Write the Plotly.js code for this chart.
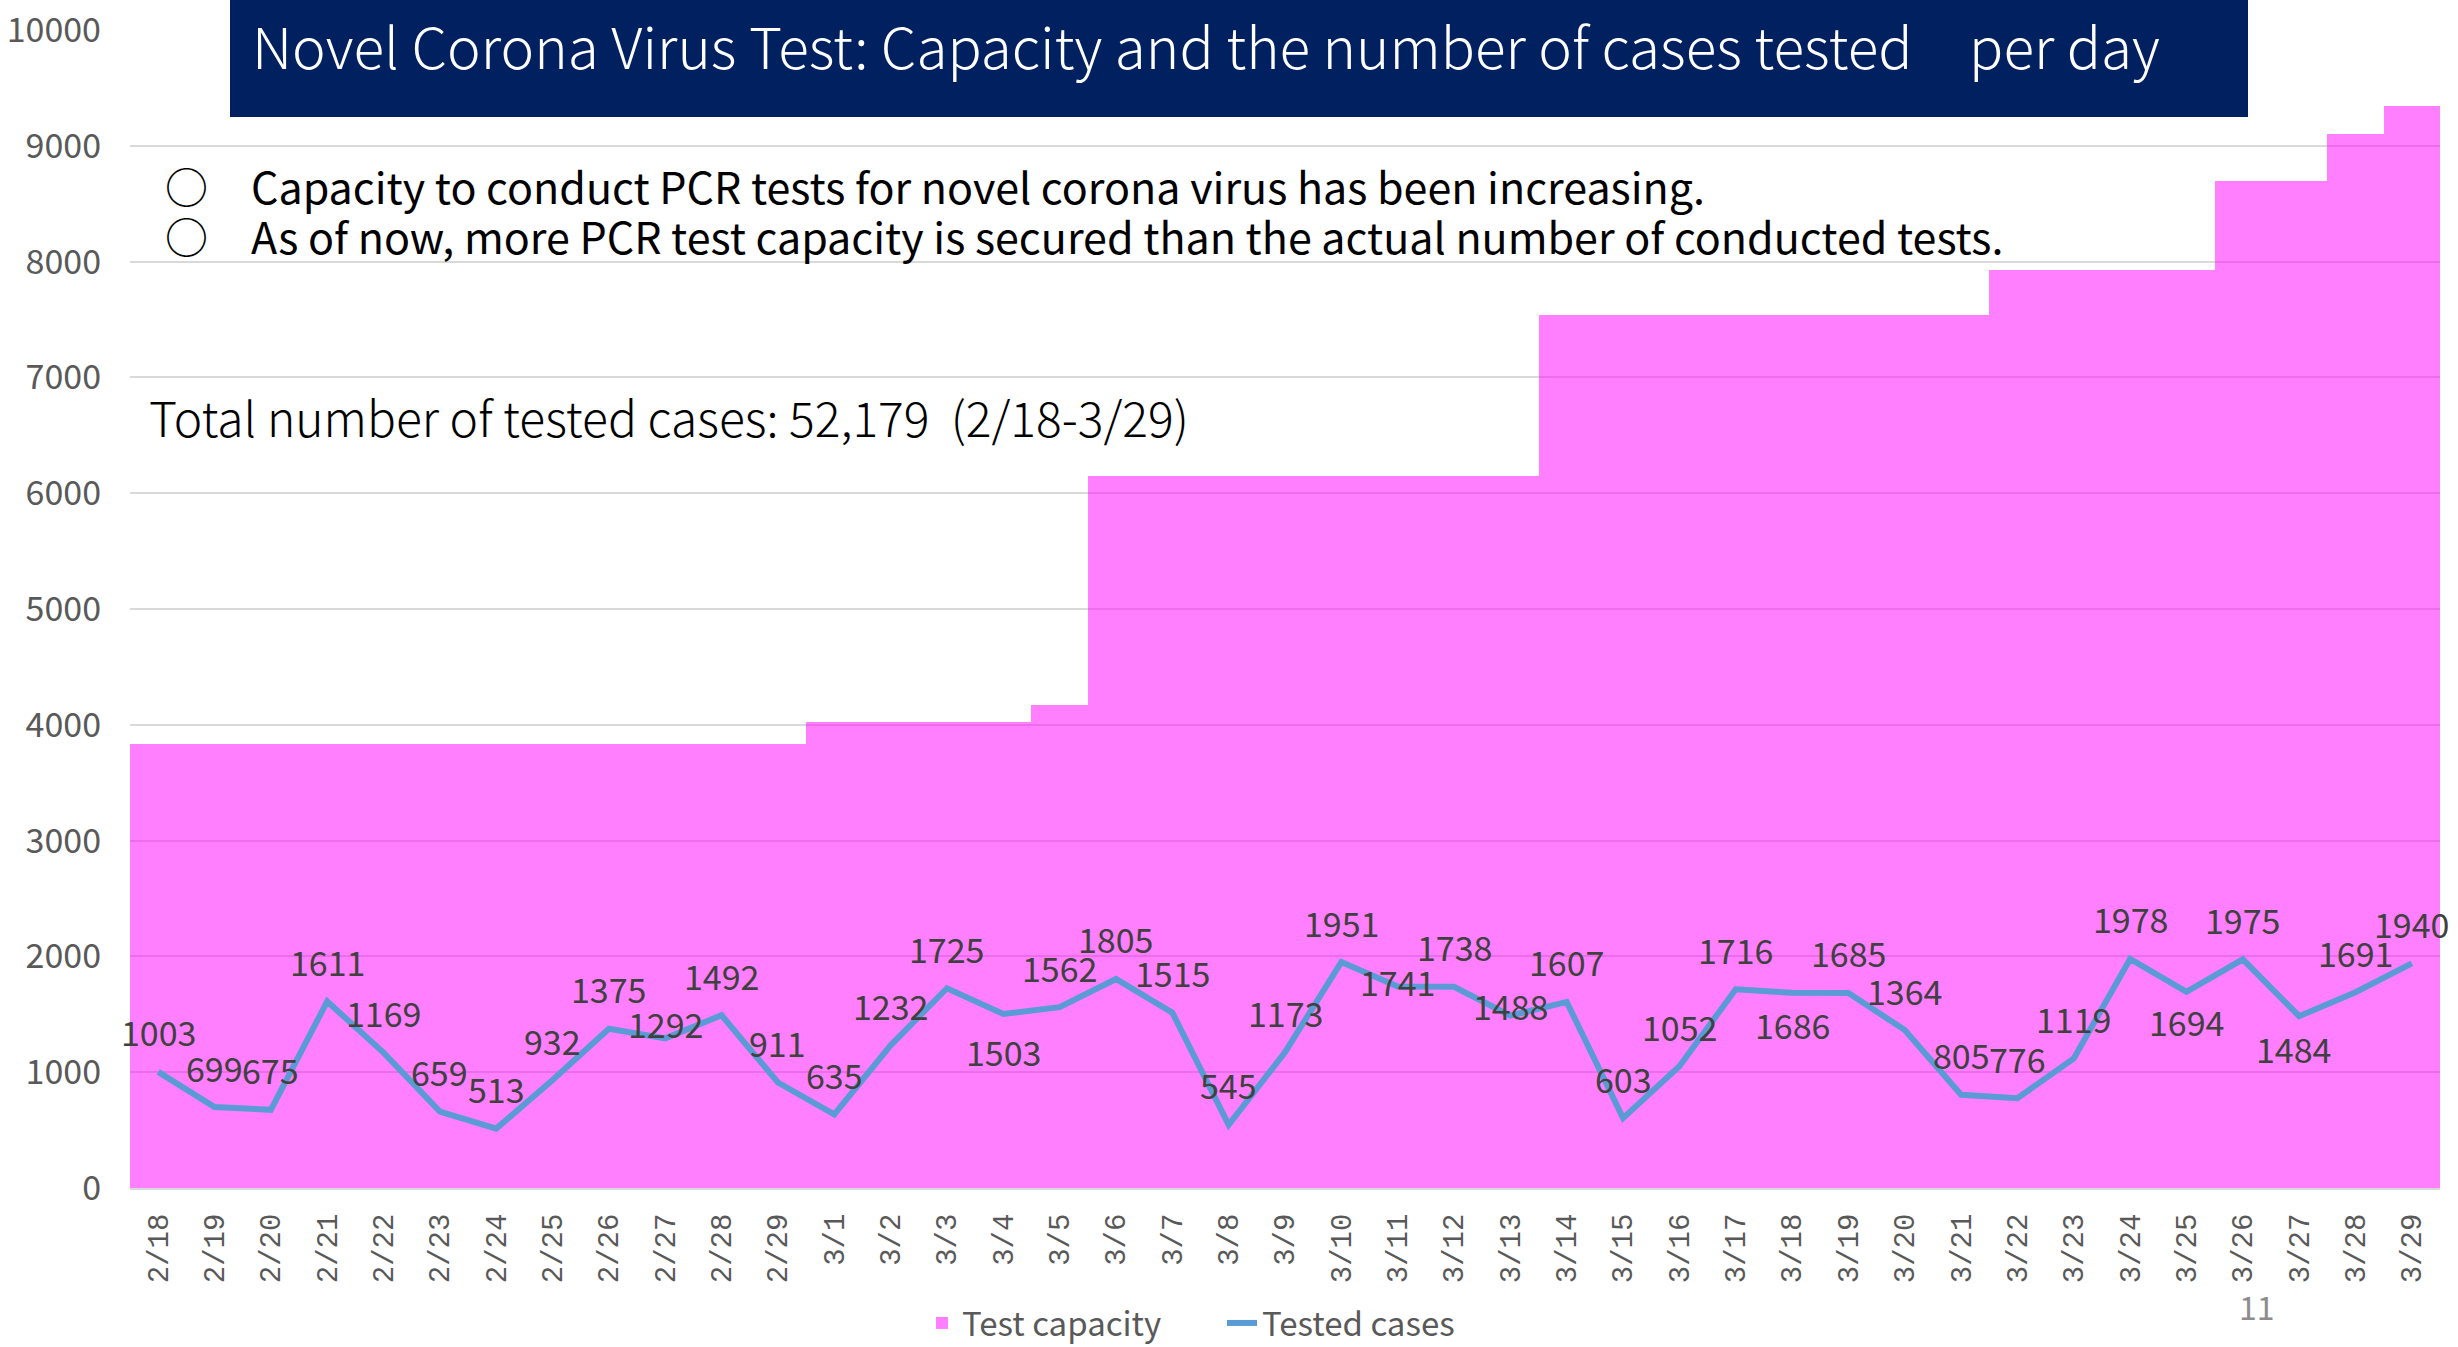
<!DOCTYPE html>
<html>
<head>
<meta charset="utf-8">
<script src="https://cdn.plot.ly/plotly-3.0.1.min.js"></script>
<style>
html,body{margin:0;padding:0;background:#fff;}
#chart{width:2458px;height:1347px;}
</style>
</head>
<body>
<div id="chart"></div>
<script>
// ---------- data ----------
const dates = ["2/18","2/19","2/20","2/21","2/22","2/23","2/24","2/25","2/26","2/27","2/28","2/29",
  "3/1","3/2","3/3","3/4","3/5","3/6","3/7","3/8","3/9","3/10","3/11","3/12","3/13","3/14",
  "3/15","3/16","3/17","3/18","3/19","3/20","3/21","3/22","3/23","3/24","3/25","3/26","3/27","3/28","3/29"];

const testCapacity = [3830,3830,3830,3830,3830,3830,3830,3830,3830,3830,3830,3830,
  4020,4020,4020,4020,4170,6150,6150,6150,6150,6150,6150,6150,6150,7540,
  7540,7540,7540,7540,7540,7540,7540,7930,7930,7930,7930,8700,8700,9100,9340];

const testedCases = [1003,699,675,1611,1169,659,513,932,1375,1292,1492,911,
  635,1232,1725,1503,1562,1805,1515,545,1173,1951,1741,1738,1488,1607,
  603,1052,1716,1686,1685,1364,805,776,1119,1978,1694,1975,1484,1691,1940];

const yTicks = [0,1000,2000,3000,4000,5000,6000,7000,8000,9000,10000];

const titleText = "Novel Corona Virus Test: Capacity and the number of cases tested\u3000per day";
const bullet1 = "\u25CB\u3000Capacity to conduct PCR tests for novel corona virus has been increasing.";
const bullet2 = "\u25CB\u3000As of now, more PCR test capacity is secured than the actual number of conducted tests.";
const totalText = "Total number of tested cases: 52,179\u00A0\u00A0(2/18-3/29)";
const pageNo = "11";

// ---------- layout helpers ----------
const W = 2458, H = 1347;
const M = {l:130, r:18, t:30, b:159};
const PW = W - M.l - M.r, PH = H - M.t - M.b;
const px = x => (x - M.l) / PW;        // pixel -> paper x
const py = y => (H - M.b - y) / PH;    // pixel -> paper y

const FONT = "Noto Sans CJK JP, Noto Sans, sans-serif";

// default label lift (px) and per-label exceptions (label placement styling)
const labelLift = 40;
const labelShift = {"2/27":[0,15], "3/4":[0,-38], "3/11":[0,5], "3/13":[0,10],
                    "3/18":[0,-32], "3/25":[0,-30], "3/27":[-6,-32]};

const traces = [
  {
    type: "bar",
    name: "Test capacity",
    x: dates,
    y: testCapacity,
    marker: {color: "rgba(255,0,255,0.5)", line: {width: 0}},
    hoverinfo: "skip"
  },
  {
    type: "scatter",
    mode: "lines",
    name: "Tested cases",
    x: dates,
    y: testedCases,
    line: {color: "#5B9BD5", width: 6},
    hoverinfo: "skip"
  }
];

const annotations = [];
dates.forEach((d, i) => {
  const s = labelShift[d] || [0, labelLift];
  annotations.push({
    xref: "x", yref: "y", x: d, y: testedCases[i],
    text: String(testedCases[i]), showarrow: false,
    xanchor: "center", yanchor: "middle",
    xshift: s[0], yshift: s[1],
    font: {family: FONT, size: 34, color: "#404040"}
  });
});

annotations.push({
  xref: "paper", yref: "paper", x: px(250), y: py(44),
  xanchor: "left", yanchor: "middle", showarrow: false,
  text: titleText, font: {family: FONT, size: 56.7, color: "#ffffff", weight: 300}
});
annotations.push({
  xref: "paper", yref: "paper", x: px(163), y: py(185),
  xanchor: "left", yanchor: "middle", showarrow: false,
  text: bullet1, font: {family: FONT, size: 43, color: "#000000"}
});
annotations.push({
  xref: "paper", yref: "paper", x: px(163), y: py(235),
  xanchor: "left", yanchor: "middle", showarrow: false,
  text: bullet2, font: {family: FONT, size: 43, color: "#000000"}
});
annotations.push({
  xref: "paper", yref: "paper", x: px(147), y: py(416),
  xanchor: "left", yanchor: "middle", showarrow: false,
  text: totalText, font: {family: FONT, size: 48, color: "#000000", weight: 300}
});
annotations.push({
  xref: "paper", yref: "paper", x: px(2257), y: py(1306),
  xanchor: "center", yanchor: "middle", showarrow: false,
  text: pageNo, font: {family: FONT, size: 32, color: "#8c8c8c"}
});

const layout = {
  width: W, height: H,
  margin: {l: M.l, r: M.r, t: M.t, b: M.b, autoexpand: false},
  paper_bgcolor: "#ffffff",
  plot_bgcolor: "#ffffff",
  bargap: 0,
  showlegend: true,
  legend: {
    orientation: "h", x: px(1222), xanchor: "center", y: py(1323), yanchor: "middle",
    font: {family: FONT, size: 33, color: "#595959"},
    itemwidth: 30, traceorder: "normal",
    entrywidth: 255, entrywidthmode: "pixels"
  },
  xaxis: {
    type: "category",
    range: [-0.5, dates.length - 0.5],
    tickangle: -90,
    tickfont: {family: "Liberation Mono, DejaVu Sans Mono, monospace", size: 29, color: "#595959"},
    showgrid: false, zeroline: false,
    showline: true, linecolor: "#d9d9d9", linewidth: 2,
    ticks: "", ticklabelstandoff: 12
  },
  yaxis: {
    range: [0, 10000],
    tickvals: yTicks,
    ticktext: yTicks.map(String),
    tickfont: {family: FONT, size: 34, color: "#595959"},
    showgrid: true, gridcolor: "#d9d9d9", gridwidth: 2,
    zeroline: false, showline: false, ticks: "",
    ticklabelstandoff: 28
  },
  shapes: [{
    type: "rect", xref: "paper", yref: "paper", layer: "above",
    x0: px(230), x1: px(2248), y0: py(117), y1: py(0),
    fillcolor: "#002060", line: {width: 0}
  }],
  annotations: annotations
};

Plotly.newPlot("chart", traces, layout, {staticPlot: true, displayModeBar: false});
</script>
</body>
</html>
